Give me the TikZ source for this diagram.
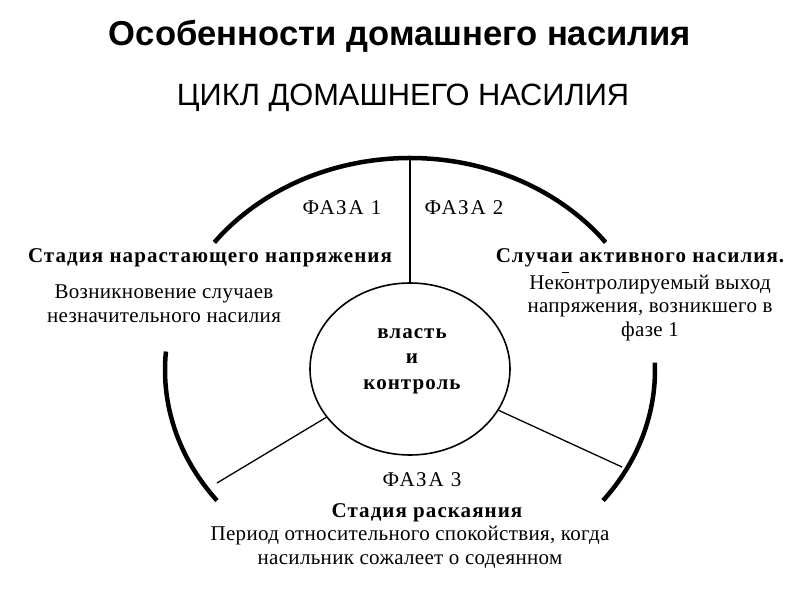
\documentclass[tikz,border=0pt]{standalone}
\usepackage{fontspec}
\setmainfont{Liberation Serif}
\newfontfamily\headfont{Liberation Sans}
\newfontfamily\stagefont[LetterSpace=5]{Liberation Serif}
\newfontfamily\phasefont[LetterSpace=9]{Liberation Serif}
\newfontfamily\notefont[LetterSpace=1.5]{Liberation Serif}
\usetikzlibrary{shapes.geometric}

\begin{document}
\begin{tikzpicture}[
  x=1pt, y=1pt,
  rim/.style={line width=4.5pt},
  spoke/.style={line width=1.3pt},
  core/.style={ellipse, draw, line width=1.6pt, minimum width=200pt, minimum height=172pt, inner sep=0pt},
  phase/.style={font=\phasefont\fontsize{21}{24}\selectfont},
  stage/.style={font=\stagefont\fontsize{21}{25.5}\selectfont\bfseries, align=center},
  note/.style={font=\notefont\fontsize{21}{23.5}\selectfont, align=center}
]
\useasboundingbox (0,0) rectangle (800,600);
% headings
\node[font=\headfont\fontsize{34.6}{40}\selectfont\bfseries] (title) at (400,564) {Особенности домашнего насилия};
\node[font=\headfont\fontsize{30.8}{34}\selectfont] (subtitle) at (403,502) {ЦИКЛ ДОМАШНЕГО НАСИЛИЯ};
% outer ring, three pieces
\coordinate (hub) at (410,230);
\coordinate (apex) at (410,442);
\draw[rim] (hub) ++(37:245pt and 212pt) arc[start angle=37, end angle=143, x radius=245pt, y radius=212pt];
\draw[rim] (hub) ++(175:245pt and 212pt) arc[start angle=175, end angle=218, x radius=245pt, y radius=212pt];
\draw[rim] (hub) ++(-38:245pt and 212pt) arc[start angle=-38, end angle=2, x radius=245pt, y radius=212pt];
% centre
\node[core] (core) at (410,231) {};
\node[stage] (power) at (412,239) {власть\\и\\контроль};
\coordinate (rimL) at (217,117);
\coordinate (rimR) at (622,133);
\draw[spoke] (apex) -- (core.north);
\draw[spoke] (core.210) -- (rimL);
\draw[spoke] (core.-25) -- (rimR);
% phases
\node[phase] (ph1) at (342,392) {ФАЗА 1};
\node[phase] (ph2) at (464,392) {ФАЗА 2};
\node[phase] (ph3) at (422,120) {ФАЗА 3};
\node[stage] (st1) at (210,342) {Стадия нарастающего напряжения};
\node[note] (nt1) at (164,296.5) {Возникновение случаев\\незначительного насилия};
\node[stage] (st2) at (640,342) {Случаи активного насилия.};
\draw[line width=0.8pt] (562,328) -- (569,328);
\node[note] (nt2) at (650,292) {Неконтролируемый выход\\напряжения, возникшего в\\фазе 1};
\node[stage] (st3) at (427,87) {Стадия раскаяния};
\node[note] (nt3) at (410,52.5) {Период относительного спокойствия, когда\\насильник сожалеет о содеянном};
\end{tikzpicture}
\end{document}
